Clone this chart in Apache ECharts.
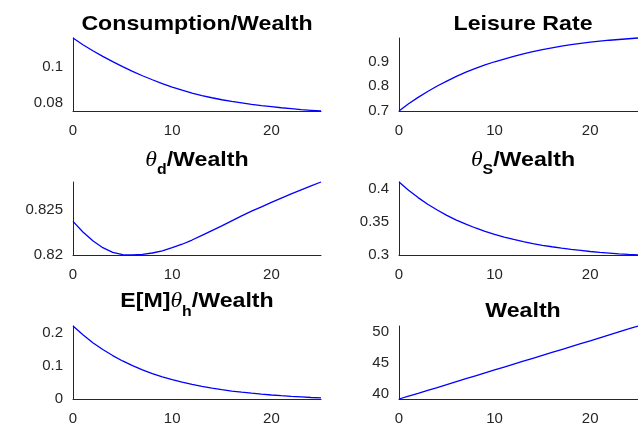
<!DOCTYPE html>
<html>
<head>
<meta charset="utf-8">
<script src="https://cdn.jsdelivr.net/npm/echarts@6/dist/echarts.min.js"></script>
<style>
  html, body { margin: 0; padding: 0; background: #fff; }
  #chart { width: 638px; height: 429px; }
</style>
</head>
<body>
<div id="chart"></div>
<script>
// Periods on the horizontal axis
const period = [0, 1, 2, 3, 4, 5, 6, 7, 8, 9, 10, 11, 12, 13, 14, 15, 16, 17, 18, 19, 20, 21, 22, 23, 24, 25];

// Paths of each ratio over time
const consumptionWealth = [0.1157, 0.1120, 0.1087, 0.1056, 0.1027, 0.0999, 0.0973, 0.0949, 0.0927, 0.0906,
  0.0887, 0.0870, 0.0854, 0.0840, 0.0828, 0.0817, 0.0808, 0.0800, 0.0792, 0.0785,
  0.0779, 0.0773, 0.0768, 0.0763, 0.0759, 0.0755];
const leisureRate = [0.700, 0.729, 0.755, 0.779, 0.801, 0.821, 0.840, 0.857, 0.872, 0.886,
  0.899, 0.910, 0.921, 0.931, 0.940, 0.948, 0.955, 0.962, 0.968, 0.973,
  0.978, 0.982, 0.986, 0.989, 0.992, 0.995];
const thetaDWealth = [0.82368, 0.82252, 0.82156, 0.82080, 0.82028, 0.82003, 0.82000, 0.82006, 0.82022, 0.82046,
  0.82080, 0.82118, 0.82164, 0.82216, 0.82268, 0.82320, 0.82374, 0.82428, 0.82480, 0.82528,
  0.82576, 0.82624, 0.82670, 0.82714, 0.82758, 0.82800];
const thetaSWealth = [0.4100, 0.3975, 0.3864, 0.3764, 0.3676, 0.3595, 0.3524, 0.3461, 0.3404, 0.3353,
  0.3307, 0.3267, 0.3230, 0.3197, 0.3168, 0.3142, 0.3120, 0.3099, 0.3080, 0.3064,
  0.3048, 0.3035, 0.3024, 0.3013, 0.3003, 0.2995];
const emThetaHWealth = [0.2220, 0.1952, 0.1713, 0.1505, 0.1321, 0.1157, 0.1014, 0.0886, 0.0775, 0.0675,
  0.0588, 0.0511, 0.0444, 0.0384, 0.0331, 0.0285, 0.0242, 0.0207, 0.0176, 0.0146,
  0.0122, 0.0100, 0.0080, 0.0063, 0.0046, 0.0033];
const wealth = [39.20, 39.66, 40.12, 40.59, 41.05, 41.52, 41.99, 42.46, 42.93, 43.40,
  43.87, 44.34, 44.81, 45.28, 45.75, 46.22, 46.69, 47.16, 47.63, 48.10,
  48.57, 49.04, 49.52, 50.00, 50.47, 50.95];

// Tick labels
const xTicks = [0, 10, 20];
const yTicksConsumption = [0.08, 0.1];
const yTicksLeisure = [0.7, 0.8, 0.9];
const yTicksThetaD = [0.82, 0.825];
const yTicksThetaS = [0.3, 0.35, 0.4];
const yTicksEmTheta = [0, 0.1, 0.2];
const yTicksWealth = [40, 45, 50];

// Panel titles (rich text: b = bold sans, th = Greek theta, sub = subscript)
const titles = [
  '{b|Consumption/Wealth}',
  '{b|Leisure Rate}',
  '{th|θ}{sub|d}{b|/Wealth}',
  '{th|θ}{sub|S}{b|/Wealth}',
  '{b|E[M]}{th|θ}{sub|h}{b|/Wealth}',
  '{b|Wealth}'
];

const panels = [
  { values: consumptionWealth, ticks: yTicksConsumption, min: 'dataMin', max: 'dataMax' },
  { values: leisureRate, ticks: yTicksLeisure, min: 'dataMin', max: 'dataMax' },
  { values: thetaDWealth, ticks: yTicksThetaD, min: 'dataMin', max: 'dataMax' },
  { values: thetaSWealth, ticks: yTicksThetaS, min: 'dataMin', max: 'dataMax' },
  { values: emThetaHWealth, ticks: yTicksEmTheta, min: 0, max: 'dataMax' },
  { values: wealth, ticks: yTicksWealth, min: 'dataMin', max: 'dataMax' }
];

// Layout: two columns, three rows
const colLeft = [73, 399];
const rowTop = [38, 182, 326];
const plotW = 248, plotH = 73;
const titleTop = [11.5, 12, 147.5, 147.5, 289, 298.5];

const axisColor = '#262626';
const font = 'Liberation Sans, Arial, sans-serif';

const rich = {
  b: { fontFamily: font, fontWeight: 'bold', fontSize: 20.5, fill: '#000', lineHeight: 30, verticalAlign: 'bottom', padding: [0, 0, 7, 0] },
  th: { fontFamily: 'Liberation Serif, DejaVu Serif, serif', fontStyle: 'italic', fontSize: 21, fill: '#000', lineHeight: 30, verticalAlign: 'bottom', padding: [0, 0, 7, 0] },
  sub: { fontFamily: font, fontWeight: 'bold', fontSize: 14, fill: '#000', lineHeight: 30, verticalAlign: 'bottom', padding: [0, 0, 0, 0] }
};

const grid = [], xAxis = [], yAxis = [], series = [], graphic = [];
panels.forEach((p, i) => {
  const col = i % 2, row = Math.floor(i / 2);
  grid.push({ left: colLeft[col], top: rowTop[row], width: plotW, height: plotH });
  // Panel title, slightly widened to the figure's bold face proportions
  graphic.push({
    type: 'text',
    x: colLeft[col] + plotW / 2,
    y: titleTop[i],
    scaleX: 1.13,
    style: { text: titles[i], rich: rich, align: 'center', verticalAlign: 'top', fill: '#000' }
  });
  xAxis.push({
    type: 'value', gridIndex: i, min: 0, max: 25,
    axisLine: { show: true, onZero: false, lineStyle: { color: axisColor, width: 1 } },
    axisTick: { show: false },
    splitLine: { show: false },
    axisLabel: { customValues: xTicks, fontSize: 15, fontFamily: font, color: axisColor, margin: 12 }
  });
  yAxis.push({
    type: 'value', gridIndex: i, min: p.min, max: p.max,
    axisLine: { show: true, onZero: false, lineStyle: { color: axisColor, width: 1 } },
    axisTick: { show: false },
    splitLine: { show: false },
    axisLabel: { customValues: p.ticks, fontSize: 15, fontFamily: font, color: axisColor, margin: 10,
      formatter: v => String(v) }
  });
  series.push({
    type: 'line', xAxisIndex: i, yAxisIndex: i,
    data: period.map((x, k) => [x, p.values[k]]),
    showSymbol: false, smooth: false,
    lineStyle: { color: '#0000ff', width: 1.3 },
    clip: false
  });
});

const chart = echarts.init(document.getElementById('chart'), null, { renderer: 'canvas' });
chart.setOption({ animation: false, backgroundColor: '#fff', graphic, grid, xAxis, yAxis, series });
</script>
</body>
</html>
